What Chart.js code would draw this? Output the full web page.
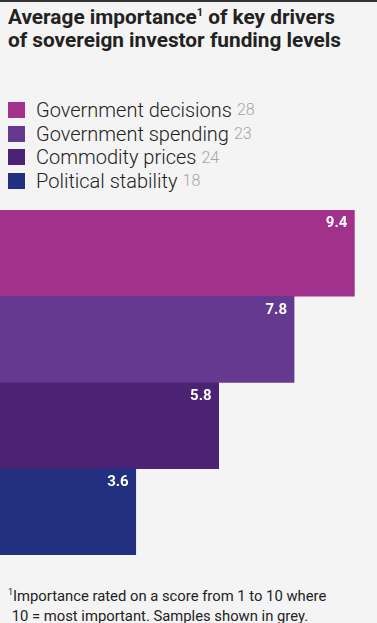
<!DOCTYPE html>
<html>
<head>
<meta charset="utf-8">
<script src="https://cdn.jsdelivr.net/npm/chart.js@4/dist/chart.umd.min.js"></script>
<style>
  html, body { margin: 0; padding: 0; background: #f4f4f4; }
  body { width: 377px; height: 623px; position: relative; overflow: hidden; font-family: Roboto, "Noto Sans", sans-serif; }
  .topline { position: absolute; left: 0; top: 0; width: 377px; height: 2px; background: #333; }
  h1 { position: absolute; left: 8px; top: 6px; margin: 0; font-size: 20.8px; line-height: 23px; font-weight: 700; color: #222; white-space: nowrap; }
  h1 sup { font-size: 11px; line-height: 0; }
  #legend { position: absolute; left: 8px; top: 98px; }
  .item { height: 23.7px; display: flex; align-items: center; font-size: 20px; font-weight: 300; color: #222; white-space: nowrap; }
  .box { width: 17px; height: 16px; margin-right: 11px; }
  .n { color: #a5a5a5; margin-left: 5px; font-size: 16px; }
  #wrap { position: absolute; left: 0; top: 210px; width: 377px; height: 345px; }
  .note { position: absolute; left: 8px; top: 582px; font-size: 14.8px; line-height: 20px; color: #222; white-space: nowrap; }
  .note sup { font-size: 9px; }
</style>
</head>
<body>
<div class="topline"></div>
<h1>Average importance<sup>1</sup> of key drivers<br>of sovereign investor funding levels</h1>
<div id="legend"></div>
<div id="wrap"><canvas id="chart"></canvas></div>
<div class="note"><sup>1</sup>Importance rated on a score from 1 to 10 where<br>&nbsp;10 = most important. Samples shown in grey.</div>
<script>
// Chart data
const categories = ['Government decisions', 'Government spending', 'Commodity prices', 'Political stability'];
const samples = [28, 23, 24, 18];
const importance = [9.4, 7.8, 5.8, 3.6];
const colors = ['#a2318b', '#653990', '#4b2274', '#23307f'];

// Legend in HTML
const legend = document.getElementById('legend');
categories.forEach((name, i) => {
    const row = document.createElement('div');
    row.className = 'item';
    row.innerHTML = `<span class="box" style="background:${colors[i]}"></span>${name}<span class="n">${samples[i]}</span>`;
    legend.appendChild(row);
});

// Value labels at top right of each bar
const valueLabels = {
    id: 'valueLabels',
    afterDatasetsDraw(chart) {
        const ctx = chart.ctx;
        const meta = chart.getDatasetMeta(0);
        ctx.save();
        ctx.fillStyle = '#fff';
        ctx.font = 'bold 15px Roboto, sans-serif';
        ctx.textAlign = 'right';
        ctx.textBaseline = 'top';
        meta.data.forEach((bar, i) => {
            const top = bar.y - bar.height / 2;
            ctx.fillText(importance[i].toFixed(1), bar.x - 7, top + 6);
        });
        ctx.restore();
    }
};

new Chart(document.getElementById('chart'), {
    type: 'bar',
    data: {
        labels: categories,
        datasets: [{
            data: importance,
            backgroundColor: colors,
            borderWidth: 0,
            categoryPercentage: 1,
            barPercentage: 1
        }]
    },
    options: {
        indexAxis: 'y',
        responsive: true,
        maintainAspectRatio: false,
        animation: false,
        layout: { padding: 0 },
        plugins: { legend: { display: false }, tooltip: { enabled: false } },
        scales: {
            x: { min: 0, max: 10, display: false },
            y: { display: false }
        }
    },
    plugins: [valueLabels]
});
</script>
</body>
</html>
